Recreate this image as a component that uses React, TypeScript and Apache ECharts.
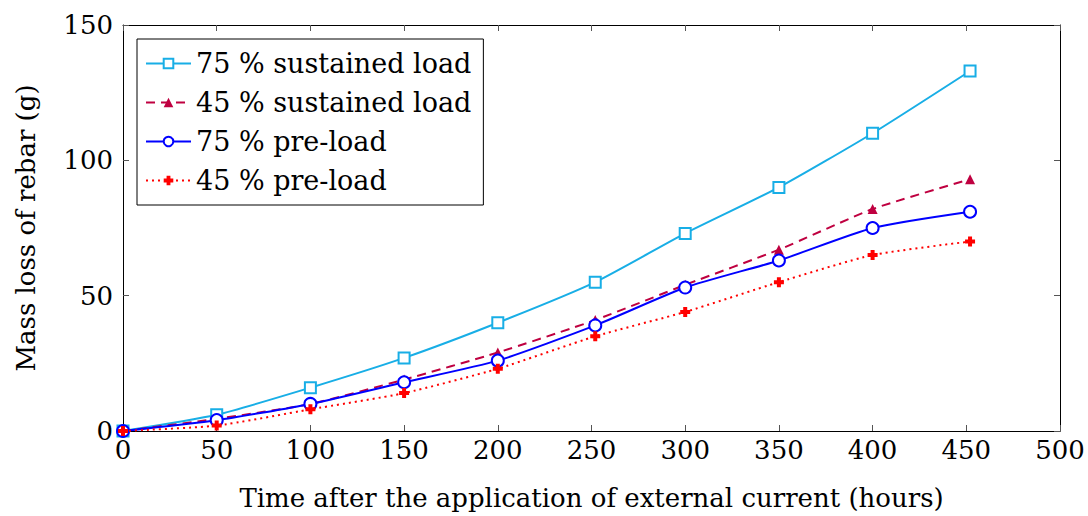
import React, { useEffect, useRef } from "react";
import * as echarts from "echarts";

const hours = [0, 50, 100, 150, 200, 252, 300, 350, 400, 452];
const sustained75 = [0, 6, 16, 27, 40, 55, 73, 90, 110, 133];
const sustained45 = [0, 4.5, 10, 19, 29, 41, 54, 67, 82, 93];
const preload75 = [0, 4, 10, 18, 26, 39, 53, 63, 75, 81];
const preload45 = [0, 2, 8, 14, 23, 35, 44, 55, 65, 70];
const seriesNames = ["75 % sustained load", "45 % sustained load", "75 % pre-load", "45 % pre-load"];
const xTicks = [0, 50, 100, 150, 200, 250, 300, 350, 400, 450, 500];
const yTicks = [0, 50, 100, 150];

const FONT = "DejaVu Serif";
const plusPath = "path://M3,0H7V3H10V7H7V10H3V7H0V3H3Z";

function pairs(ys: number[]) {
  return hours.map((x, i) => [x, ys[i]]);
}

export default function App() {
  const ref = useRef<HTMLDivElement>(null);
  useEffect(() => {
    if (!ref.current) return;
    const chart = echarts.init(ref.current, null, { renderer: "svg" });
    const axisCommon = {
      axisLine: { show: true, onZero: false, lineStyle: { color: "#000", width: 1 } },
      axisTick: { show: true, inside: true, length: 6, lineStyle: { color: "#555" } },
      splitLine: { show: false },
    };
    chart.setOption({
      animation: false,
      backgroundColor: "#fff",
      textStyle: { fontFamily: FONT },
      grid: { left: 123, right: 28, top: 25, bottom: 82, containLabel: false },
      legend: {
        orient: "vertical",
        left: 137,
        top: 39,
        itemWidth: 45,
        itemHeight: 12,
        itemGap: 12,
        padding: [11, 12, 11, 8],
        borderColor: "#000",
        borderWidth: 1,
        backgroundColor: "#fff",
        textStyle: { fontFamily: FONT, fontSize: 27, color: "#000" },
        data: seriesNames,
      },
      xAxis: [
        {
          type: "value",
          min: 0,
          max: 500,
          interval: 50,
          position: "bottom",
          ...axisCommon,
          axisLabel: {
            fontFamily: FONT,
            fontSize: 26,
            color: "#000",
            margin: 6,
            customValues: xTicks,
          },
          name: "Time after the application of external current (hours)",
          nameLocation: "middle",
          nameGap: 54,
          nameTextStyle: { fontFamily: FONT, fontSize: 26, color: "#000" },
        },
        {
          type: "value",
          min: 0,
          max: 500,
          interval: 50,
          position: "top",
          ...axisCommon,
          axisLabel: { show: false },
        },
      ],
      yAxis: [
        {
          type: "value",
          min: 0,
          max: 150,
          interval: 50,
          position: "left",
          ...axisCommon,
          axisLabel: {
            fontFamily: FONT,
            fontSize: 26,
            color: "#000",
            margin: 10,
            customValues: yTicks,
          },
          name: "Mass loss of rebar (g)",
          nameLocation: "middle",
          nameGap: 84,
          nameTextStyle: { fontFamily: FONT, fontSize: 26, color: "#000" },
        },
        {
          type: "value",
          min: 0,
          max: 150,
          interval: 50,
          position: "right",
          ...axisCommon,
          axisLabel: { show: false },
        },
      ],
      series: [
        {
          name: seriesNames[0],
          type: "line",
          data: pairs(sustained75),
          smooth: 0.2,
          symbol: "rect",
          symbolSize: 11,
          itemStyle: { color: "#fff", borderColor: "#18AEE6", borderWidth: 2 },
          lineStyle: { color: "#18AEE6", width: 2 },
          z: 2,
        },
        {
          name: seriesNames[1],
          type: "line",
          data: pairs(sustained45),
          smooth: 0.2,
          symbol: "triangle",
          symbolSize: 10,
          itemStyle: { color: "#BF0040", borderColor: "#BF0040", borderWidth: 0 },
          lineStyle: { color: "#BF0040", width: 2, type: [9, 6] },
          z: 3,
        },
        {
          name: seriesNames[2],
          type: "line",
          data: pairs(preload75),
          smooth: 0.2,
          symbol: "circle",
          symbolSize: 12,
          itemStyle: { color: "#fff", borderColor: "#0000FF", borderWidth: 2 },
          lineStyle: { color: "#0000FF", width: 2 },
          z: 4,
        },
        {
          name: seriesNames[3],
          type: "line",
          data: pairs(preload45),
          smooth: 0.2,
          symbol: plusPath,
          symbolSize: 10,
          itemStyle: { color: "#FF0000", borderWidth: 0 },
          lineStyle: { color: "#FF0000", width: 2, type: [2, 4] },
          z: 5,
        },
      ],
    });
    return () => chart.dispose();
  }, []);
  return (
    <div
      ref={ref}
      style={{ position: "absolute", left: 0, top: 0, width: 1088, height: 516 }}
    />
  );
}
